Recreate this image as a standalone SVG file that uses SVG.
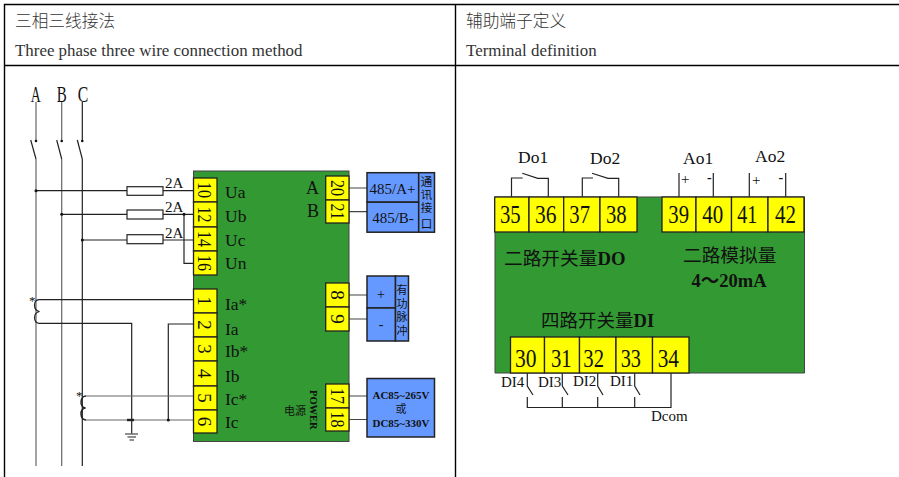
<svg xmlns="http://www.w3.org/2000/svg" width="899" height="477" viewBox="0 0 899 477">
<style>
text{font-family:"Liberation Serif","Noto Sans CJK SC",serif;fill:#111}
.cj{font-family:"Noto Sans CJK SC","Liberation Serif",serif}
.hd{font-size:16.900px;fill:#333}
.t{fill:#ffff00;stroke:#222;stroke-width:1.3}
.b{fill:#6699ff;stroke:#222;stroke-width:1.5}
.g{fill:#339933;stroke:#444;stroke-width:1}
.n{font-size:19px;text-anchor:middle}
.N{font-size:25px}
.l{font-size:17.500px}
.s{font-size:15px}
.w{fill:none;stroke:#222;stroke-width:1.2}
.gr{fill:none;stroke:#666;stroke-width:1.2}
.tb{fill:none;stroke:#000;stroke-width:1.4}
.d{fill:#111}
</style>

<g id="table">
<path class="tb" d="M4.500 477V4.500H899M4.500 65.500H899M455.500 4.500V477"/>
<text class="hd cj" x="15" y="27" style="font-size:16.700px;font-weight:300">三相三线接法</text>
<text class="hd" x="15" y="56">Three phase three wire connection method</text>
<text class="hd cj" x="466" y="27" style="font-size:16.700px;font-weight:300">辅助端子定义</text>
<text class="hd" x="466" y="56">Terminal definition</text>
</g>

<g id="connectors">
<path class="gr" d="M36 102V141M36 159V466"/>
<path class="gr" d="M61.700 102V141M61.700 159V466"/>
<path class="w" d="M82.300 102V141M82.300 159V466"/>
<path class="w" d="M30.700 140L36 159M56.700 140L61.700 159M77.300 140L82.300 159"/>
<path class="w" d="M36 190.700H127M163 190.700H193.500"/>
<path class="w" d="M61.700 214.300H127M163 214.300H193.500M184 214.300V263.300H193.500"/>
<path class="w" d="M82.300 240H127M163 240H193.500"/>
<rect class="w" x="127" y="186.700" width="36" height="8.600"/>
<rect class="w" x="127" y="210" width="36" height="9"/>
<rect class="w" x="127" y="234.700" width="36" height="9"/>
<path class="w" d="M193.500 299.700H39C33.500 300 32.500 310 39.500 311.500C32.500 313 33.500 323 39 323.300H131.700V433.500"/>
<path class="w" d="M193.500 324H168.300V420"/>
<path class="gr" d="M193.500 396H86M86 420H193.500"/>
<path class="w" d="M86 396C80 396 79 407 85.500 408C79 409 80 420 86 420" style="stroke-width:1.500"/>
<path class="w" d="M125 434H138M127.500 437H136M129.500 440H134"/>
<path class="w" d="M127 420H134" style="stroke-width:2.400"/>
<circle class="d" cx="36" cy="190.700" r="1.500"/>
<circle class="d" cx="61.700" cy="214.300" r="1.500"/>
<circle class="d" cx="82.300" cy="240" r="1.500"/>
<circle class="d" cx="184" cy="214.300" r="1.500"/>
<circle class="d" cx="36" cy="141" r="1.300"/>
<circle class="d" cx="61.700" cy="141" r="1.300"/>
<circle class="d" cx="82.300" cy="141" r="1.300"/>
<circle class="d" cx="168.300" cy="420" r="1.500"/>
<path class="gr" d="M349 188H367M349 211.700H367M349 295H367M349 319H367M349 396H367M349 419.500H367" style="stroke:#444"/>
<path class="w" d="M511.500 197V178H522.700M522.300 173.300L537.700 178.300H548.300V197"/>
<path class="w" d="M582.300 197V178H593M592 173.300L608 178.300H618.700V197"/>
<path class="w" d="M679 197V173M713.300 197V173M749.300 197V173M785.700 197V173"/>
<path class="w" d="M527.300 373V386L533 395M562.300 373V386L568 395M597.700 373V386L603 395M634.700 373V386L640 395"/>
<path class="w" d="M527.300 397V407.500H671V373M562.300 397V407.500M597.700 397V407.500M634.700 397V407.500"/>
</g>

<g id="labels-lines">
<text x="30.700" y="102" textLength="10" lengthAdjust="spacingAndGlyphs" style="font-size:24px">A</text>
<text x="56.700" y="102" textLength="10" lengthAdjust="spacingAndGlyphs" style="font-size:24px">B</text>
<text x="77.700" y="102" textLength="10.500" lengthAdjust="spacingAndGlyphs" style="font-size:24px">C</text>
<text class="s" x="165" y="188">2A</text>
<text class="s" x="165" y="212">2A</text>
<text class="s" x="165" y="238">2A</text>
<text x="29" y="305" style="font-size:13px">*</text>
<text x="76" y="400" style="font-size:13px">*</text>
<text class="l" x="518" y="163">Do1</text>
<text class="l" x="590" y="164">Do2</text>
<text class="l" x="683" y="164">Ao1</text>
<text class="l" x="755" y="162">Ao2</text>
<text x="681" y="184" style="font-size:15px">+</text>
<text x="707" y="181.500" style="font-size:14px;font-weight:bold">-</text>
<text x="752" y="185" style="font-size:15px">+</text>
<text x="778.500" y="181.500" style="font-size:14px;font-weight:bold">-</text>
<text class="s" x="501" y="387">DI4</text>
<text class="s" x="538" y="387">DI3</text>
<text class="s" x="573" y="386">DI2</text>
<text class="s" x="610" y="386">DI1</text>
<text class="s" x="651" y="421">Dcom</text>
</g>

<g id="meter">
<rect class="g" x="193.500" y="171" width="155.500" height="270.500"/>
<text class="l" x="225" y="198">Ua</text>
<text class="l" x="225" y="222">Ub</text>
<text class="l" x="225" y="246">Uc</text>
<text class="l" x="225" y="269">Un</text>
<text class="l" x="225" y="310">Ia*</text>
<text class="l" x="225" y="335">Ia</text>
<text class="l" x="225" y="357">Ib*</text>
<text class="l" x="225" y="382">Ib</text>
<text class="l" x="225" y="405">Ic*</text>
<text class="l" x="225" y="428">Ic</text>
<text x="306" y="194" style="font-size:18px">A</text>
<text x="307" y="217" style="font-size:18px">B</text>
<text class="cj" x="284" y="415" style="font-size:11px">电源</text>
<text transform="translate(310 390) rotate(90)" style="font-size:10.500px;font-weight:bold">POWER</text>
</g>

<g id="terminals-left">
<rect class="t" x="193.500" y="178" width="23.500" height="24"/><text class="n" transform="translate(197.500 190) rotate(90)" textLength="16" lengthAdjust="spacingAndGlyphs">10</text>
<rect class="t" x="193.500" y="202" width="23.500" height="25"/><text class="n" transform="translate(197.500 214.500) rotate(90)" textLength="16" lengthAdjust="spacingAndGlyphs">12</text>
<rect class="t" x="193.500" y="227" width="23.500" height="24"/><text class="n" transform="translate(197.500 239) rotate(90)" textLength="16" lengthAdjust="spacingAndGlyphs">14</text>
<rect class="t" x="193.500" y="251" width="23.500" height="24"/><text class="n" transform="translate(197.500 263) rotate(90)" textLength="16" lengthAdjust="spacingAndGlyphs">16</text>
<rect class="t" x="193.500" y="289" width="23.500" height="24"/><text class="n" transform="translate(197.500 301) rotate(90)">1</text>
<rect class="t" x="193.500" y="313" width="23.500" height="24"/><text class="n" transform="translate(197.500 325) rotate(90)">2</text>
<rect class="t" x="193.500" y="337" width="23.500" height="24"/><text class="n" transform="translate(197.500 349) rotate(90)">3</text>
<rect class="t" x="193.500" y="361" width="23.500" height="25"/><text class="n" transform="translate(197.500 373.500) rotate(90)">4</text>
<rect class="t" x="193.500" y="386" width="23.500" height="24"/><text class="n" transform="translate(197.500 398) rotate(90)">5</text>
<rect class="t" x="193.500" y="410" width="23.500" height="23"/><text class="n" transform="translate(197.500 421.500) rotate(90)">6</text>
</g>

<g id="terminals-right">
<rect class="t" x="325.700" y="176" width="23.300" height="24"/><text class="n" transform="translate(331 188) rotate(90)" textLength="16" lengthAdjust="spacingAndGlyphs">20</text>
<rect class="t" x="325.700" y="200" width="23.300" height="23"/><text class="n" transform="translate(331 211.500) rotate(90)" textLength="16" lengthAdjust="spacingAndGlyphs">21</text>
<rect class="t" x="325.700" y="283" width="23.300" height="24"/><text class="n" transform="translate(331 295) rotate(90)">8</text>
<rect class="t" x="325.700" y="307" width="23.300" height="24"/><text class="n" transform="translate(331 319) rotate(90)">9</text>
<rect class="t" x="325.700" y="384" width="23.300" height="24"/><text class="n" transform="translate(331 396) rotate(90)" textLength="16" lengthAdjust="spacingAndGlyphs">17</text>
<rect class="t" x="325.700" y="408" width="23.300" height="23"/><text class="n" transform="translate(331 419.500) rotate(90)" textLength="16" lengthAdjust="spacingAndGlyphs">18</text>
</g>

<g id="comm-box">
<rect class="b" x="367" y="172.700" width="51.700" height="29.500"/>
<rect class="b" x="367" y="202.200" width="51.700" height="30"/>
<rect class="b" x="418.700" y="172.700" width="15.800" height="59.500"/>
<text x="392.500" y="194" text-anchor="middle" style="font-size:15px">485/A+</text>
<text x="393" y="223" text-anchor="middle" style="font-size:15px">485/B-</text>
<g class="cj" style="font-size:11.500px;text-anchor:middle"><text x="426.500" y="186">通</text><text x="426.500" y="199">讯</text><text x="426.500" y="212">接</text><text x="426.500" y="228">口</text></g>
</g>

<g id="pulse-box">
<rect class="b" x="367" y="276" width="28.500" height="32"/>
<rect class="b" x="367" y="308" width="28.500" height="33"/>
<rect class="b" x="395.500" y="276" width="13" height="65"/>
<text x="381" y="299" text-anchor="middle" style="font-size:14px">+</text>
<text x="381" y="329" text-anchor="middle" style="font-size:14px">-</text>
<g class="cj" style="font-size:11px;text-anchor:middle"><text x="402" y="294">有</text><text x="402" y="308">功</text><text x="402" y="321">脉</text><text x="402" y="335">冲</text></g>
</g>

<g id="power-box">
<rect class="b" x="367" y="378.500" width="67.500" height="58.500"/>
<g style="font-size:11px;font-weight:bold;text-anchor:middle"><text x="401" y="399">AC85~265V</text><text class="cj" x="401" y="413" style="font-weight:400">或</text><text x="401" y="427">DC85~330V</text></g>
</g>

<g id="aux-board">
<path class="g" d="M495 197H804.500V373H495Z"/>
<text x="504" y="265" style="font-size:18.700px"><tspan class="cj">二路开关量</tspan><tspan style="font-weight:bold">DO</tspan></text>
<text class="cj" x="683" y="262" style="font-size:18.700px">二路模拟量</text>
<text x="691.500" y="287" style="font-size:18.500px;font-weight:bold">4～20mA</text>
<text x="541" y="327" style="font-size:18.500px"><tspan class="cj">四路开关量</tspan><tspan style="font-weight:bold">DI</tspan></text>
</g>

<g id="terminals-top">
<rect class="t" x="494.700" y="197" width="34.300" height="35"/><text class="N" x="500" y="223" textLength="20.700" lengthAdjust="spacingAndGlyphs">35</text>
<rect class="t" x="529" y="197" width="34.700" height="35"/><text class="N" x="535" y="223" textLength="21.500" lengthAdjust="spacingAndGlyphs">36</text>
<rect class="t" x="563.700" y="197" width="36.300" height="35"/><text class="N" x="569.300" y="223" textLength="20.700" lengthAdjust="spacingAndGlyphs">37</text>
<rect class="t" x="600" y="197" width="37" height="35"/><text class="N" x="606" y="223" textLength="20.700" lengthAdjust="spacingAndGlyphs">38</text>
<rect class="t" x="662" y="197" width="34" height="35"/><text class="N" x="668.300" y="223" textLength="20.700" lengthAdjust="spacingAndGlyphs">39</text>
<rect class="t" x="696" y="197" width="35.500" height="35"/><text class="N" x="702.300" y="223" textLength="21" lengthAdjust="spacingAndGlyphs">40</text>
<rect class="t" x="731.500" y="197" width="36.500" height="35"/><text class="N" x="737.300" y="223" textLength="20" lengthAdjust="spacingAndGlyphs">41</text>
<rect class="t" x="768" y="197" width="36" height="35"/><text class="N" x="775" y="223" textLength="21" lengthAdjust="spacingAndGlyphs">42</text>
</g>

<g id="terminals-bottom">
<rect class="t" x="510.500" y="337" width="34" height="36"/><text class="N" x="515" y="366.700" textLength="21.500" lengthAdjust="spacingAndGlyphs">30</text>
<rect class="t" x="544.500" y="337" width="35" height="36"/><text class="N" x="551" y="366.700" textLength="20.700" lengthAdjust="spacingAndGlyphs">31</text>
<rect class="t" x="579.500" y="337" width="36.500" height="36"/><text class="N" x="583.300" y="366.700" textLength="20.700" lengthAdjust="spacingAndGlyphs">32</text>
<rect class="t" x="616" y="337" width="36.500" height="36"/><text class="N" x="620.700" y="366.700" textLength="20.300" lengthAdjust="spacingAndGlyphs">33</text>
<rect class="t" x="652.500" y="337" width="36.500" height="36"/><text class="N" x="657.700" y="366.700" textLength="21.300" lengthAdjust="spacingAndGlyphs">34</text>
</g>
</svg>
